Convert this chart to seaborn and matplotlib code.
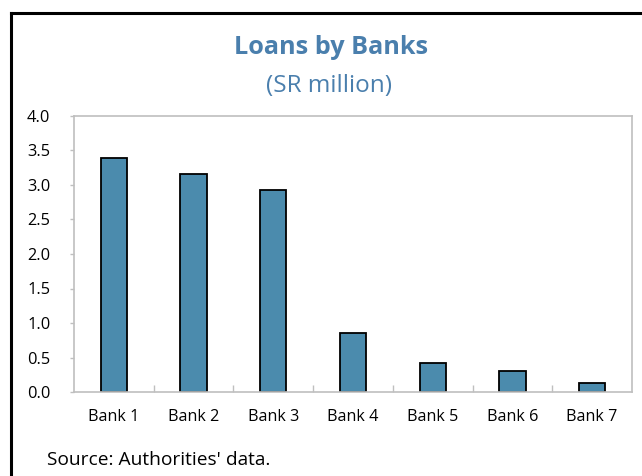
import matplotlib
matplotlib.use("Agg")
import matplotlib.pyplot as plt
from matplotlib.lines import Line2D
from matplotlib.ticker import FixedLocator, NullFormatter
import seaborn as sns
import pandas as pd

# Loans outstanding per bank, SR million
banks = ["Bank 1", "Bank 2", "Bank 3", "Bank 4", "Bank 5", "Bank 6", "Bank 7"]
loans = [3.39, 3.16, 2.93, 0.855, 0.415, 0.31, 0.125]
y_ticks = [0.0, 0.5, 1.0, 1.5, 2.0, 2.5, 3.0, 3.5, 4.0]

sns.set_theme(style="white")
plt.rcParams["font.family"] = ["Open Sans", "DejaVu Sans"]

df = pd.DataFrame({"bank": banks, "loans": loans})

fig = plt.figure(figsize=(6.42, 4.76), dpi=100)
ax = fig.add_axes([74 / 642, 1 - 392 / 476, (632 - 74) / 642, (392 - 116) / 476])

sns.barplot(data=df, x="bank", y="loans", color="#4b8bad", saturation=1,
            width=0.33, edgecolor="black", linewidth=1.3, ax=ax)

ax.set_xlim(-0.5, len(banks) - 0.5)
ax.set_ylim(0, 4.0)
ax.set_yticks(y_ticks)
ax.set_yticklabels([f"{v:.1f}" for v in y_ticks])
ax.set_xlabel("")
ax.set_ylabel("")

grey = "#bfbfbf"
for s in ax.spines.values():
    s.set_visible(True)
    s.set_color(grey)
    s.set_linewidth(1.2)

ax.tick_params(axis="y", which="major", direction="out", length=3, width=1,
               color=grey, pad=14, labelsize=11.8, labelcolor="black", left=True)
ax.tick_params(axis="x", which="major", length=0, pad=12, labelsize=11.6,
               labelcolor="black")
# category separators along the base line
ax.xaxis.set_minor_locator(FixedLocator([i + 0.5 for i in range(len(banks) - 1)]))
ax.xaxis.set_minor_formatter(NullFormatter())
ax.tick_params(axis="x", which="minor", direction="in", length=5, width=1,
               color=grey, bottom=True)

fig.text(0.516, 1 - 48 / 476, "Loans by Banks", ha="center", va="center",
         fontsize=18.2, fontweight="bold", color="#4a7fad")
fig.text(0.512, 1 - 86 / 476, "(SR million)", ha="center", va="center",
         fontsize=17.5, color="#4a7fad")
fig.text(47 / 642, 1 - 460 / 476, "Source: Authorities' data.", ha="left",
         va="center", fontsize=13.8, color="black")

# outer panel border (top and left edges)
fig.add_artist(Line2D([11.5 / 642, 11.5 / 642], [0, 1 - 13 / 476],
                      transform=fig.transFigure, color="black", linewidth=2.2,
                      solid_capstyle="projecting"))
fig.add_artist(Line2D([11.5 / 642, 1], [1 - 13 / 476, 1 - 13 / 476],
                      transform=fig.transFigure, color="black", linewidth=2.2,
                      solid_capstyle="projecting"))

fig.savefig("out.png", dpi=100)
